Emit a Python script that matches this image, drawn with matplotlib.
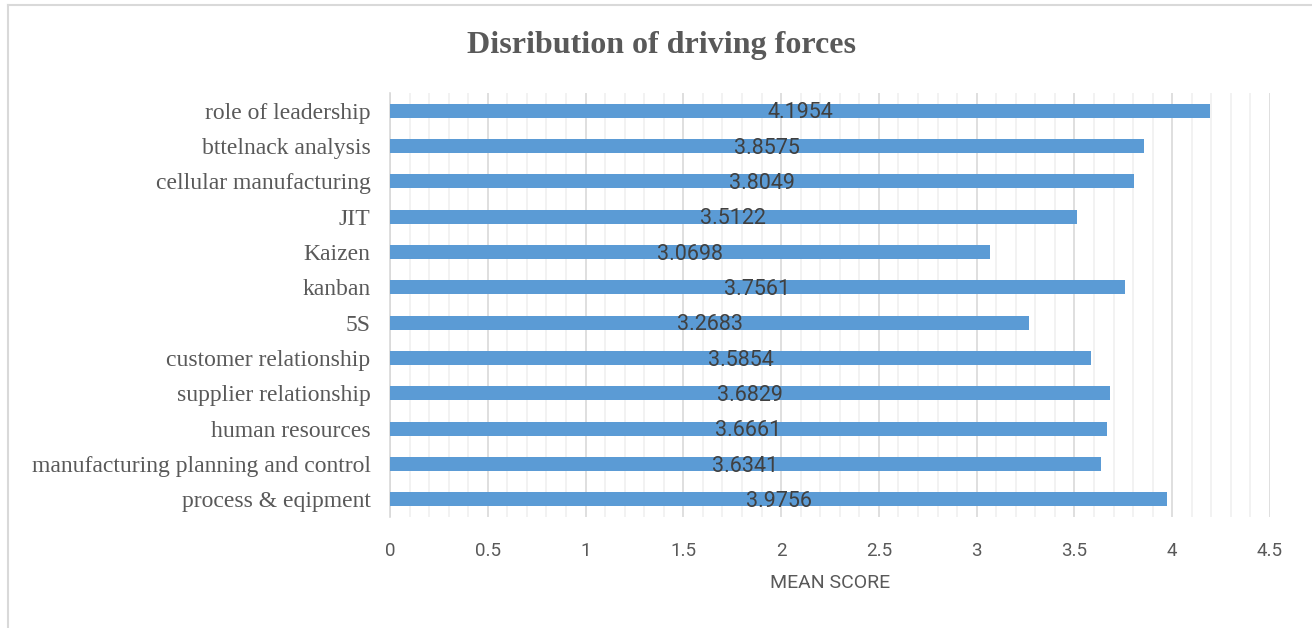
import numpy as np
import matplotlib.pyplot as plt
from matplotlib.lines import Line2D
from matplotlib.ticker import MultipleLocator

# данные (снизу вверх)
factors = ["process & eqipment", "manufacturing planning and control", "human resources",
           "supplier relationship", "customer relationship", "5S", "kanban", "Kaizen",
           "JIT", "cellular manufacturing", "bttelnack analysis", "role of leadership"]
scores = [3.9756, 3.6341, 3.6661, 3.6829, 3.5854, 3.2683, 3.7561, 3.0698,
          3.5122, 3.8049, 3.8575, 4.1954]
x_ticks = [0, 0.5, 1, 1.5, 2, 2.5, 3, 3.5, 4, 4.5]

fig = plt.figure(figsize=(13.12, 6.28), dpi=100)
ax = fig.add_axes([390/1312, 1 - 517/628, 880/1312, 424/628])

y = np.arange(len(factors))
ax.barh(y, scores, height=0.4, color="#5b9bd5", zorder=3)

for yi, v in zip(y, scores):
    ax.text(v / 2, yi - 0.06, f"{v:.4f}", ha="center", va="center",
            fontsize=15.5, color="#404040", family="Roboto", zorder=4)

ax.set_xlim(0, 4.5)
ax.set_ylim(-0.5, len(factors) - 0.5)
ax.set_yticks(y)
ax.set_yticklabels(factors, family="Liberation Serif", fontsize=17, color="#595959")
ax.set_xticks(x_ticks)
ax.set_xticklabels([f"{t:g}" for t in x_ticks], family="Roboto", fontsize=13.5, color="#595959")
ax.xaxis.set_minor_locator(MultipleLocator(0.1))
ax.grid(True, axis="x", which="major", color="#d9d9d9", linewidth=1.2, zorder=0)
ax.grid(True, axis="x", which="minor", color="#f0f0f0", linewidth=1.2, zorder=0)
ax.tick_params(axis="both", which="both", length=0)
ax.tick_params(axis="x", pad=18)
ax.tick_params(axis="y", pad=14)
for s in ["top", "right", "bottom"]:
    ax.spines[s].set_visible(False)
ax.spines["left"].set_color("#d9d9d9")
ax.spines["left"].set_linewidth(1.2)

ax.set_xlabel("MEAN SCORE", family="Roboto", fontsize=14, color="#595959", labelpad=10)

fig.text(662/1312, 1 - 45/628, "Disribution of driving forces", ha="center", va="center",
         family="Liberation Serif", fontsize=23, fontweight="bold", color="#595959")

# рамка диаграммы
fig.add_artist(Line2D([8/1312, 8/1312], [0, 1 - 5/628], color="#d9d9d9", lw=1.5))
fig.add_artist(Line2D([8/1312, 1], [1 - 5/628, 1 - 5/628], color="#d9d9d9", lw=1.5))

fig.savefig("out.png", dpi=100)
